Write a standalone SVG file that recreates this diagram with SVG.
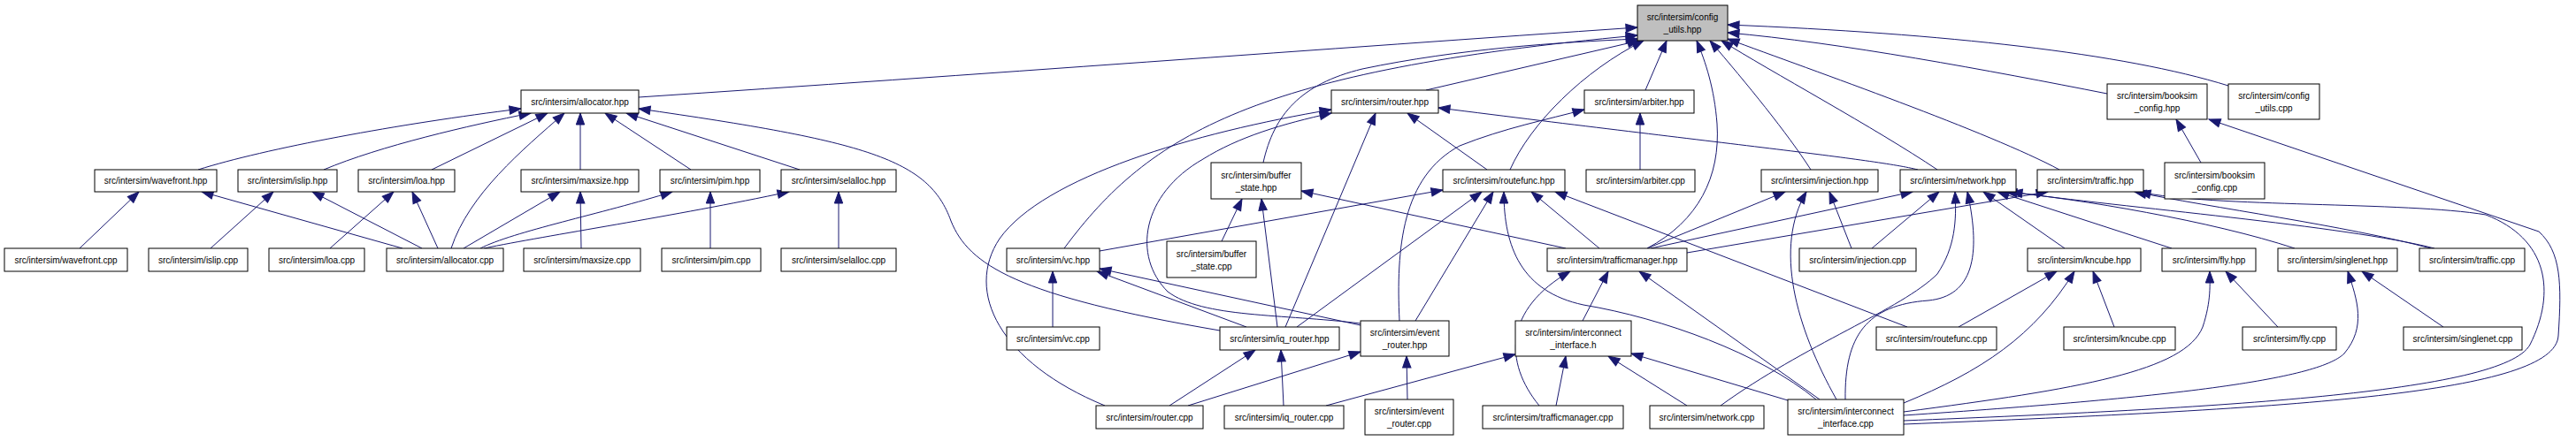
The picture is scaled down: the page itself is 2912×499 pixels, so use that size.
<svg xmlns="http://www.w3.org/2000/svg" width="2912" height="499" viewBox="0 0 2912 499">
<defs>
<marker id="arr" markerUnits="userSpaceOnUse" markerWidth="14" markerHeight="11" refX="13" refY="4.7" orient="auto" overflow="visible">
<path d="M0,0 L13,4.7 L0,9.4 z" fill="#191970" stroke="#191970" stroke-width="1"/>
</marker>
<style>
.node rect{fill:#ffffff;stroke:#000000;stroke-width:1}
.node.root rect{fill:#bfbfbf}
.node text{font-family:"Liberation Sans",Arial,sans-serif;font-size:10px;fill:#000000;text-anchor:middle}
#edges path{fill:none;stroke:#191970;stroke-width:1;marker-end:url(#arr)}
</style>
</defs>
<rect x="0" y="0" width="2912" height="499" fill="#ffffff"/>
<g id="edges">
<path d="M722,110 C1100,85 1500,55 1851,31"/>
<path d="M1203,281 C1300,150 1420,80 1851,40"/>
<path d="M1428,184 C1440,130 1470,95 1540,78 C1650,55 1760,48 1851,44"/>
<path d="M1612,102 L1853,46"/>
<path d="M1707,192 C1730,140 1790,80 1858,46"/>
<path d="M1860,102 L1884,46"/>
<path d="M1862,281 C1920,250 1945,200 1941,140 C1938,100 1928,70 1918,46"/>
<path d="M2047,192 C2020,150 1975,95 1933,46"/>
<path d="M2190,192 C2120,145 2000,80 1946,46"/>
<path d="M2328,192 C2250,150 2050,80 1953,44"/>
<path d="M2382,106 C2250,80 2080,48 1953,37"/>
<path d="M2519,97 C2400,60 2200,38 1953,28"/>
<path d="M224,192 C300,168 450,140 589,123"/>
<path d="M366,192 C430,165 530,142 600,128"/>
<path d="M488,192 L619,128"/>
<path d="M510,281 C530,220 590,170 638,128"/>
<path d="M656,192 L656,128"/>
<path d="M781,192 L684,128"/>
<path d="M904,192 L708,128"/>
<path d="M1379,374 C1150,335 1095,300 1075,250 C1050,180 980,160 722,123"/>
<path d="M90,281 L157,217"/>
<path d="M455,281 L228,217"/>
<path d="M238,281 L309,217"/>
<path d="M477,281 L353,217"/>
<path d="M373,281 L445,217"/>
<path d="M495,281 L466,217"/>
<path d="M524,281 L633,217"/>
<path d="M657,281 L656,217"/>
<path d="M543,281 C580,262 680,242 760,217"/>
<path d="M803,281 L803,217"/>
<path d="M547,281 C620,266 760,245 892,217"/>
<path d="M948,281 L948,217"/>
<path d="M1249,459 C1130,410 1090,330 1130,270 C1180,200 1350,150 1505,124"/>
<path d="M1538,366 C1450,355 1360,360 1320,330 C1280,290 1290,220 1360,180 C1400,155 1450,140 1505,128"/>
<path d="M1453,370 L1555,128"/>
<path d="M1681,192 L1591,128"/>
<path d="M2168,192 C2120,180 1950,163 1626,122"/>
<path d="M1381,273 L1404,225"/>
<path d="M1444,370 L1426,225"/>
<path d="M1770,281 L1471,216"/>
<path d="M1243,284 L1631,215"/>
<path d="M1466,370 L1675,217"/>
<path d="M1600,363 L1688,217"/>
<path d="M2053,452 C1990,400 1880,360 1790,345 C1720,330 1700,280 1700,217"/>
<path d="M1808,281 L1731,217"/>
<path d="M2156,370 L1758,217"/>
<path d="M1582,363 C1578,280 1585,200 1650,165 C1700,145 1750,135 1791,124"/>
<path d="M1854,192 L1854,128"/>
<path d="M1190,370 L1190,307"/>
<path d="M1409,370 L1240,307"/>
<path d="M1538,368 L1243,304"/>
<path d="M1322,459 L1419,396"/>
<path d="M1451,459 L1448,396"/>
<path d="M1343,459 L1538,398"/>
<path d="M1591,452 L1590,403"/>
<path d="M1740,459 C1700,410 1700,350 1775,307"/>
<path d="M1789,363 L1818,307"/>
<path d="M2057,452 L1853,307"/>
<path d="M1862,281 L2018,217"/>
<path d="M2076,452 C2030,370 2005,280 2042,217"/>
<path d="M2093,281 L2068,217"/>
<path d="M1866,281 L2162,217"/>
<path d="M2116,281 L2192,217"/>
<path d="M1945,459 C2040,390 2150,350 2190,310 C2210,280 2212,250 2210,217"/>
<path d="M2086,452 C2085,380 2110,345 2180,340 C2230,335 2240,290 2224,217"/>
<path d="M2334,281 L2242,217"/>
<path d="M2455,281 L2258,217"/>
<path d="M2594,281 C2500,250 2350,225 2267,217"/>
<path d="M2752,281 C2650,255 2400,235 2273,217"/>
<path d="M1907,286 L2315,217"/>
<path d="M2748,281 C2650,255 2500,235 2413,217"/>
<path d="M2152,476 C2500,462 2830,445 2860,390 C2890,330 2880,270 2810,243 C2720,228 2500,235 2418,217"/>
<path d="M2152,480 C2600,462 2888,445 2892,380 C2896,320 2895,285 2870,262 L2497,135"/>
<path d="M2488,184 L2460,135"/>
<path d="M2214,370 L2325,307"/>
<path d="M2152,456 C2240,420 2300,380 2345,307"/>
<path d="M2390,370 L2366,307"/>
<path d="M2152,466 C2350,440 2470,420 2490,370 C2500,340 2498,320 2498,307"/>
<path d="M2575,370 L2516,307"/>
<path d="M2152,470 C2450,450 2620,430 2650,400 C2675,370 2665,340 2654,307"/>
<path d="M2762,370 L2670,307"/>
<path d="M1499,459 L1713,401"/>
<path d="M1759,459 L1770,403"/>
<path d="M1907,459 L1818,403"/>
<path d="M2021,453 L1844,400"/>
</g>
<g id="n_config_utils_hpp" class="node root"><rect x="1851" y="6" width="102" height="40"/><text x="1902" y="23">src/intersim/config</text><text x="1902" y="37">_utils.hpp</text></g>
<g id="n_allocator_hpp" class="node"><rect x="589" y="102" width="133" height="26"/><text x="655.5" y="118.5">src/intersim/allocator.hpp</text></g>
<g id="n_router_hpp" class="node"><rect x="1505" y="102" width="121" height="26"/><text x="1565.5" y="118.5">src/intersim/router.hpp</text></g>
<g id="n_arbiter_hpp" class="node"><rect x="1791" y="102" width="124" height="26"/><text x="1853" y="118.5">src/intersim/arbiter.hpp</text></g>
<g id="n_booksim_config_hpp" class="node"><rect x="2382" y="95" width="113" height="40"/><text x="2438.5" y="112">src/intersim/booksim</text><text x="2438.5" y="126">_config.hpp</text></g>
<g id="n_config_utils_cpp" class="node"><rect x="2519" y="95" width="103" height="40"/><text x="2570.5" y="112">src/intersim/config</text><text x="2570.5" y="126">_utils.cpp</text></g>
<g id="n_wavefront_hpp" class="node"><rect x="107" y="192" width="138" height="25"/><text x="176" y="208">src/intersim/wavefront.hpp</text></g>
<g id="n_islip_hpp" class="node"><rect x="269" y="192" width="112" height="25"/><text x="325" y="208">src/intersim/islip.hpp</text></g>
<g id="n_loa_hpp" class="node"><rect x="405" y="192" width="109" height="25"/><text x="459.5" y="208">src/intersim/loa.hpp</text></g>
<g id="n_maxsize_hpp" class="node"><rect x="589" y="192" width="133" height="25"/><text x="655.5" y="208">src/intersim/maxsize.hpp</text></g>
<g id="n_pim_hpp" class="node"><rect x="746" y="192" width="113" height="25"/><text x="802.5" y="208">src/intersim/pim.hpp</text></g>
<g id="n_selalloc_hpp" class="node"><rect x="883" y="192" width="130" height="25"/><text x="948" y="208">src/intersim/selalloc.hpp</text></g>
<g id="n_buffer_state_hpp" class="node"><rect x="1369" y="184" width="102" height="41"/><text x="1420" y="201.5">src/intersim/buffer</text><text x="1420" y="215.5">_state.hpp</text></g>
<g id="n_routefunc_hpp" class="node"><rect x="1631" y="192" width="138" height="25"/><text x="1700" y="208">src/intersim/routefunc.hpp</text></g>
<g id="n_arbiter_cpp" class="node"><rect x="1793" y="192" width="123" height="25"/><text x="1854.5" y="208">src/intersim/arbiter.cpp</text></g>
<g id="n_injection_hpp" class="node"><rect x="1991" y="192" width="132" height="25"/><text x="2057" y="208">src/intersim/injection.hpp</text></g>
<g id="n_network_hpp" class="node"><rect x="2148" y="192" width="131" height="25"/><text x="2213.5" y="208">src/intersim/network.hpp</text></g>
<g id="n_traffic_hpp" class="node"><rect x="2303" y="192" width="120" height="25"/><text x="2363" y="208">src/intersim/traffic.hpp</text></g>
<g id="n_booksim_config_cpp" class="node"><rect x="2447" y="184" width="113" height="41"/><text x="2503.5" y="201.5">src/intersim/booksim</text><text x="2503.5" y="215.5">_config.cpp</text></g>
<g id="n_wavefront_cpp" class="node"><rect x="5" y="281" width="139" height="26"/><text x="74.5" y="297.5">src/intersim/wavefront.cpp</text></g>
<g id="n_islip_cpp" class="node"><rect x="168" y="281" width="112" height="26"/><text x="224" y="297.5">src/intersim/islip.cpp</text></g>
<g id="n_loa_cpp" class="node"><rect x="304" y="281" width="108" height="26"/><text x="358" y="297.5">src/intersim/loa.cpp</text></g>
<g id="n_allocator_cpp" class="node"><rect x="437" y="281" width="132" height="26"/><text x="503" y="297.5">src/intersim/allocator.cpp</text></g>
<g id="n_maxsize_cpp" class="node"><rect x="592" y="281" width="132" height="26"/><text x="658" y="297.5">src/intersim/maxsize.cpp</text></g>
<g id="n_pim_cpp" class="node"><rect x="748" y="281" width="112" height="26"/><text x="804" y="297.5">src/intersim/pim.cpp</text></g>
<g id="n_selalloc_cpp" class="node"><rect x="883" y="281" width="130" height="26"/><text x="948" y="297.5">src/intersim/selalloc.cpp</text></g>
<g id="n_vc_hpp" class="node"><rect x="1138" y="281" width="105" height="26"/><text x="1190.5" y="297.5">src/intersim/vc.hpp</text></g>
<g id="n_buffer_state_cpp" class="node"><rect x="1319" y="273" width="101" height="41"/><text x="1369.5" y="290.5">src/intersim/buffer</text><text x="1369.5" y="304.5">_state.cpp</text></g>
<g id="n_trafficmanager_hpp" class="node"><rect x="1749" y="281" width="158" height="26"/><text x="1828" y="297.5">src/intersim/trafficmanager.hpp</text></g>
<g id="n_injection_cpp" class="node"><rect x="2034" y="281" width="132" height="26"/><text x="2100" y="297.5">src/intersim/injection.cpp</text></g>
<g id="n_kncube_hpp" class="node"><rect x="2292" y="281" width="128" height="26"/><text x="2356" y="297.5">src/intersim/kncube.hpp</text></g>
<g id="n_fly_hpp" class="node"><rect x="2444" y="281" width="106" height="26"/><text x="2497" y="297.5">src/intersim/fly.hpp</text></g>
<g id="n_singlenet_hpp" class="node"><rect x="2575" y="281" width="135" height="26"/><text x="2642.5" y="297.5">src/intersim/singlenet.hpp</text></g>
<g id="n_traffic_cpp" class="node"><rect x="2735" y="281" width="119" height="26"/><text x="2794.5" y="297.5">src/intersim/traffic.cpp</text></g>
<g id="n_vc_cpp" class="node"><rect x="1138" y="370" width="105" height="26"/><text x="1190.5" y="386.5">src/intersim/vc.cpp</text></g>
<g id="n_iq_router_hpp" class="node"><rect x="1379" y="370" width="135" height="26"/><text x="1446.5" y="386.5">src/intersim/iq_router.hpp</text></g>
<g id="n_event_router_hpp" class="node"><rect x="1538" y="363" width="100" height="40"/><text x="1588" y="380">src/intersim/event</text><text x="1588" y="394">_router.hpp</text></g>
<g id="n_interconnect_interface_h" class="node"><rect x="1713" y="363" width="131" height="40"/><text x="1778.5" y="380">src/intersim/interconnect</text><text x="1778.5" y="394">_interface.h</text></g>
<g id="n_routefunc_cpp" class="node"><rect x="2121" y="370" width="136" height="26"/><text x="2189" y="386.5">src/intersim/routefunc.cpp</text></g>
<g id="n_kncube_cpp" class="node"><rect x="2333" y="370" width="126" height="26"/><text x="2396" y="386.5">src/intersim/kncube.cpp</text></g>
<g id="n_fly_cpp" class="node"><rect x="2535" y="370" width="106" height="26"/><text x="2588" y="386.5">src/intersim/fly.cpp</text></g>
<g id="n_singlenet_cpp" class="node"><rect x="2717" y="370" width="134" height="26"/><text x="2784" y="386.5">src/intersim/singlenet.cpp</text></g>
<g id="n_router_cpp" class="node"><rect x="1239" y="459" width="121" height="26"/><text x="1299.5" y="475.5">src/intersim/router.cpp</text></g>
<g id="n_iq_router_cpp" class="node"><rect x="1384" y="459" width="135" height="26"/><text x="1451.5" y="475.5">src/intersim/iq_router.cpp</text></g>
<g id="n_event_router_cpp" class="node"><rect x="1543" y="452" width="100" height="40"/><text x="1593" y="469">src/intersim/event</text><text x="1593" y="483">_router.cpp</text></g>
<g id="n_trafficmanager_cpp" class="node"><rect x="1676" y="459" width="159" height="26"/><text x="1755.5" y="475.5">src/intersim/trafficmanager.cpp</text></g>
<g id="n_network_cpp" class="node"><rect x="1865" y="459" width="129" height="26"/><text x="1929.5" y="475.5">src/intersim/network.cpp</text></g>
<g id="n_interconnect_interface_cpp" class="node"><rect x="2021" y="452" width="131" height="40"/><text x="2086.5" y="469">src/intersim/interconnect</text><text x="2086.5" y="483">_interface.cpp</text></g>
</svg>
